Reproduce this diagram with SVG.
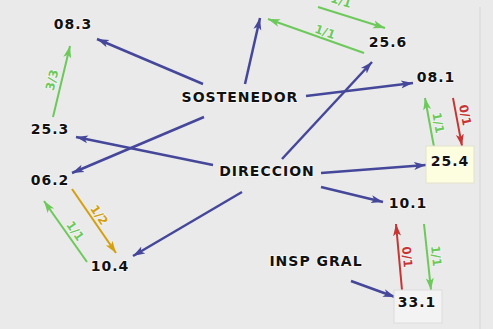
<svg xmlns="http://www.w3.org/2000/svg" width="493" height="329" viewBox="0 0 493 329">
<style>
.n{font-family:"DejaVu Sans",Verdana,sans-serif;font-weight:bold;font-size:14px;letter-spacing:1px;fill:#111;text-anchor:middle;dominant-baseline:central;stroke:#fff;stroke-width:2;stroke-opacity:0.55;paint-order:stroke}
.l{font-family:"DejaVu Sans",Verdana,sans-serif;font-weight:bold;font-size:12px;text-anchor:middle;dominant-baseline:central;stroke:#fff;stroke-width:1.5;stroke-opacity:0.5;paint-order:stroke}
.b{stroke:#45479a;stroke-width:2.5;fill:none;marker-end:url(#mb)}
.g{stroke:#6cc95a;stroke-width:2;fill:none;marker-end:url(#mg)}
.r{stroke:#c83434;stroke-width:2;fill:none;marker-end:url(#mr)}
.y{stroke:#d4a010;stroke-width:2;fill:none;marker-end:url(#my)}
</style>
<defs>
<marker id="mb" markerUnits="userSpaceOnUse" markerWidth="14" markerHeight="10" refX="12" refY="5" orient="auto" viewBox="0 0 14 10"><path d="M0,1 L12,5 L0,9 L3,5 Z" fill="#45479a"/></marker>
<marker id="mg" markerUnits="userSpaceOnUse" markerWidth="14" markerHeight="10" refX="12" refY="5" orient="auto" viewBox="0 0 14 10"><path d="M0,1 L12,5 L0,9 L3,5 Z" fill="#6cc95a"/></marker>
<marker id="mr" markerUnits="userSpaceOnUse" markerWidth="14" markerHeight="10" refX="12" refY="5" orient="auto" viewBox="0 0 14 10"><path d="M0,1 L12,5 L0,9 L3,5 Z" fill="#c83434"/></marker>
<marker id="my" markerUnits="userSpaceOnUse" markerWidth="14" markerHeight="10" refX="12" refY="5" orient="auto" viewBox="0 0 14 10"><path d="M0,1 L12,5 L0,9 L3,5 Z" fill="#d4a010"/></marker>
</defs>
<rect width="493" height="329" fill="#eaeaea"/>
<line x1="480" y1="7" x2="480" y2="329" stroke="#d6d6d6" stroke-width="1"/>
<g id="connectors">
<line class="b" x1="203" y1="84" x2="97" y2="39"/>
<line class="b" x1="245" y1="84" x2="260" y2="18"/>
<line class="b" x1="306" y1="96" x2="413" y2="83"/>
<line class="b" x1="204" y1="117" x2="72" y2="173"/>
<line class="b" x1="213" y1="165" x2="76" y2="137"/>
<line class="b" x1="282" y1="159" x2="372" y2="62"/>
<line class="b" x1="321" y1="173" x2="426" y2="165"/>
<line class="b" x1="321" y1="187" x2="383" y2="202"/>
<line class="b" x1="242" y1="192" x2="133" y2="256"/>
<line class="b" x1="351" y1="281" x2="395" y2="297"/>
<line class="g" x1="53" y1="117" x2="70" y2="46"/>
<text class="l" fill="#6cc95a" transform="translate(52,80) rotate(-76.5)">3/3</text>
<line class="g" x1="364" y1="53" x2="268" y2="19"/>
<text class="l" fill="#6cc95a" transform="translate(325,32) rotate(19.5)">1/1</text>
<line class="g" x1="318" y1="7" x2="385" y2="28"/>
<text class="l" fill="#6cc95a" transform="translate(341,1) rotate(17.4)">1/1</text>
<line class="g" x1="434" y1="147" x2="425" y2="98"/>
<text class="l" fill="#6cc95a" transform="translate(438,123) rotate(79.6)">1/1</text>
<line class="r" x1="453" y1="98" x2="462" y2="146"/>
<text class="l" fill="#c83434" transform="translate(465,115) rotate(79)">0/1</text>
<line class="y" x1="72" y1="189" x2="116" y2="253"/>
<text class="l" fill="#d4a010" transform="translate(99,215) rotate(55.9)">1/2</text>
<line class="g" x1="87" y1="262" x2="44" y2="201"/>
<text class="l" fill="#6cc95a" transform="translate(75,231) rotate(54.8)">1/1</text>
<line class="r" x1="402" y1="290" x2="396" y2="224"/>
<text class="l" fill="#c83434" transform="translate(407,257) rotate(84.8)">0/1</text>
<line class="g" x1="424" y1="224" x2="431" y2="290"/>
<text class="l" fill="#6cc95a" transform="translate(436,256) rotate(84)">1/1</text>
</g>
<g id="n083"><text class="n" x="73" y="24">08.3</text></g>
<g id="nSOSTENEDOR"><text class="n" x="240" y="97">SOSTENEDOR</text></g>
<g id="n256"><text class="n" x="388" y="42">25.6</text></g>
<g id="n081"><text class="n" x="436" y="77">08.1</text></g>
<g id="n253"><text class="n" x="50" y="129">25.3</text></g>
<g id="nDIRECCION"><text class="n" x="267" y="171">DIRECCION</text></g>
<g id="n254"><rect x="426" y="146" width="48" height="37" fill="#fdfde0" stroke="#e2e2cc" stroke-width="1"/><text class="n" x="450" y="161">25.4</text></g>
<g id="n062"><text class="n" x="50" y="180">06.2</text></g>
<g id="n104"><text class="n" x="110" y="266">10.4</text></g>
<g id="n101"><text class="n" x="408" y="203">10.1</text></g>
<g id="nINSPGRAL"><text class="n" x="316" y="261">INSP GRAL</text></g>
<g id="n331"><rect x="394" y="290" width="48" height="33" fill="#f3f3f3" stroke="#dcdcdc" stroke-width="1"/><text class="n" x="417" y="302">33.1</text></g>
</svg>
